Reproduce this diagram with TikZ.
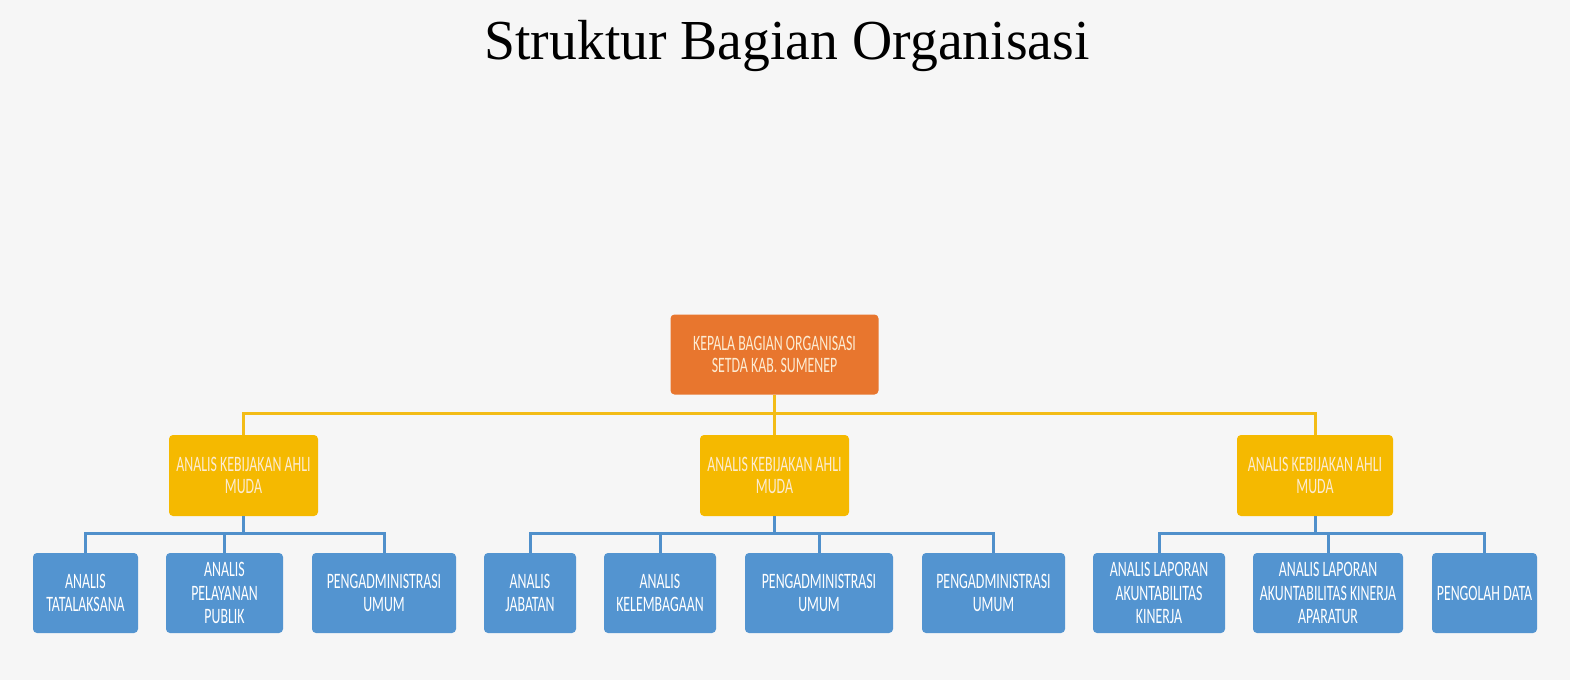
\documentclass[tikz,border=0pt]{standalone}
\usepackage{fontspec}
\newfontfamily\boxfont[FakeStretch=0.63]{Carlito}
\newfontfamily\titlefont[FakeStretch=0.985]{Liberation Serif}
\definecolor{bgcol}{HTML}{F6F6F6}
\definecolor{orangebox}{HTML}{E8762E}
\definecolor{yellowbox}{HTML}{F5B900}
\definecolor{bluebox}{HTML}{5394D0}
\definecolor{yline}{HTML}{F3BC17}
\definecolor{bline}{HTML}{5090CB}
\definecolor{creamtext}{HTML}{FCEBD2}
\tikzset{
  basebox/.style={rounded corners=4pt, inner sep=0pt, align=center, font=\boxfont\fontsize{22}{21.5}\selectfont},
  headbox/.style={basebox, fill=orangebox, text=creamtext, minimum width=208pt, minimum height=80pt},
  midbox/.style={basebox, fill=yellowbox, text=creamtext, minimum height=81pt},
  leafbox/.style={basebox, fill=bluebox, text=white, minimum height=80pt, font=\boxfont\fontsize{22}{23.5}\selectfont},
  ylink/.style={draw=yline, line width=3pt},
  blink/.style={draw=bline, line width=3pt},
}
\begin{document}
\begin{tikzpicture}[x=1pt,y=-1pt]
\fill[bgcol] (0,0) rectangle (1570,680);
\useasboundingbox (0,0) rectangle (1570,680);
\node[anchor=base, inner sep=0pt, font=\titlefont\fontsize{56.5}{64}\selectfont] (title) at (787,59.5) {Struktur Bagian Organisasi};

\node[headbox] (top) at (774.5,354.5) {KEPALA BAGIAN ORGANISASI\\SETDA KAB. SUMENEP};

\node[midbox, minimum width=149pt] (m1) at (243.5,475.5) {ANALIS KEBIJAKAN AHLI\\MUDA};
\node[midbox, minimum width=149pt] (m2) at (774.5,475.5) {ANALIS KEBIJAKAN AHLI\\MUDA};
\node[midbox, minimum width=156pt] (m3) at (1315,475.5) {ANALIS KEBIJAKAN AHLI\\MUDA};

\node[leafbox, minimum width=105pt] (l1) at (85.5,593) {ANALIS\\TATALAKSANA};
\node[leafbox, minimum width=117pt] (l2) at (224.5,593) {ANALIS\\PELAYANAN\\PUBLIK};
\node[leafbox, minimum width=144pt] (l3) at (384,593) {PENGADMINISTRASI\\UMUM};

\node[leafbox, minimum width=92pt] (c1) at (530,593) {ANALIS\\JABATAN};
\node[leafbox, minimum width=112pt] (c2) at (660,593) {ANALIS\\KELEMBAGAAN};
\node[leafbox, minimum width=148pt] (c3) at (819,593) {PENGADMINISTRASI\\UMUM};
\node[leafbox, minimum width=143pt] (c4) at (993.5,593) {PENGADMINISTRASI\\UMUM};

\node[leafbox, minimum width=132pt] (r1) at (1159,593) {ANALIS LAPORAN\\AKUNTABILITAS\\KINERJA};
\node[leafbox, minimum width=150pt] (r2) at (1328,593) {ANALIS LAPORAN\\AKUNTABILITAS KINERJA\\APARATUR};
\node[leafbox, minimum width=105pt] (r3) at (1484.5,593) {PENGOLAH DATA};

% yellow connectors
\draw[ylink] (m1.north) -- ++(0,-21) -| (m3.north);
\draw[ylink] (top.south) -- (m2.north);

% blue connectors
\draw[blink] (l1.north) -- ++(0,-19) -| (l3.north);
\draw[blink] (l2.north) -- ++(0,-19);
\draw[blink] (m1.south) -- ++(0,18);

\draw[blink] (c1.north) -- ++(0,-19) -| (c4.north);
\draw[blink] (c2.north) -- ++(0,-19);
\draw[blink] (c3.north) -- ++(0,-19);
\draw[blink] (m2.south) -- ++(0,18);

\draw[blink] (r1.north) -- ++(0,-19) -| (r3.north);
\draw[blink] (r2.north) -- ++(0,-19);
\draw[blink] (m3.south) -- ++(0,18);
\end{tikzpicture}
\end{document}
